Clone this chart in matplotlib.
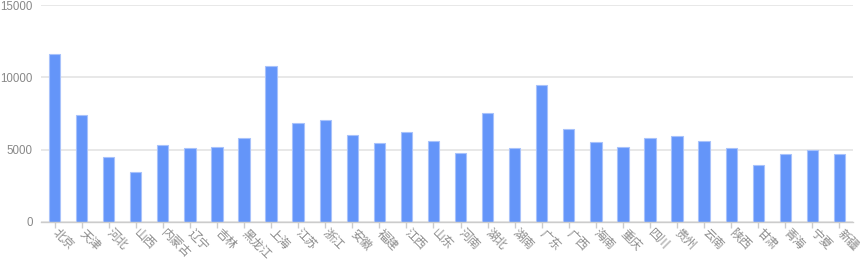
import matplotlib
matplotlib.use("Agg")
import matplotlib.pyplot as plt
import numpy as np

provinces = ["北京", "天津", "河北", "山西", "内蒙古", "辽宁", "吉林", "黑龙江", "上海", "江苏",
             "浙江", "安徽", "福建", "江西", "山东", "河南", "湖北", "湖南", "广东", "广西",
             "海南", "重庆", "四川", "贵州", "云南", "陕西", "甘肃", "青海", "宁夏", "新疆"]
values = [11600, 7380, 4460, 3440, 5290, 5100, 5170, 5780, 10780, 6820,
          7030, 5990, 5430, 6240, 5570, 4780, 7510, 5100, 9480, 6420,
          5540, 5150, 5800, 5960, 5590, 5080, 3920, 4710, 4970, 4690]
yticks = [0, 5000, 10000, 15000]

plt.rcParams['font.family'] = ['Liberation Sans', 'Noto Sans CJK SC', 'DejaVu Sans']

fig = plt.figure(figsize=(8.6, 2.6), dpi=100)
ax = fig.add_axes([41/860, 1-221.5/260, (853-41)/860, 216/260])

x = np.arange(len(provinces))
ax.bar(x, values, width=0.42, color='#6495f9', edgecolor='#a8c2fb', linewidth=0.8, zorder=3)

ax.set_xlim(-0.5, len(provinces) - 0.5)
ax.set_ylim(0, 15000)
ax.set_yticks(yticks)
ax.set_yticklabels([str(v) for v in yticks])
ax.grid(axis='y', color='#e6e6e6', linewidth=1.3, zorder=0)
for s in ['top', 'right', 'left']:
    ax.spines[s].set_visible(False)
ax.spines['bottom'].set_color('#cccccc')
ax.spines['bottom'].set_linewidth(1.0)
ax.spines['bottom'].set_zorder(4)
ax.tick_params(axis='y', length=0, pad=6, labelsize=8.3, labelcolor='#888888')
ax.tick_params(axis='x', length=4, color='#cccccc', width=1, pad=3)
ax.set_xticks(x)
ax.set_xticklabels(provinces, rotation=-45, ha='left', va='center', rotation_mode='anchor',
                   fontsize=8.6, color='#8c8c8c')
for lbl in ax.get_xticklabels():
    lbl.set_family(['Noto Sans CJK SC', 'DejaVu Sans'])

fig.savefig('out.png', dpi=100)
